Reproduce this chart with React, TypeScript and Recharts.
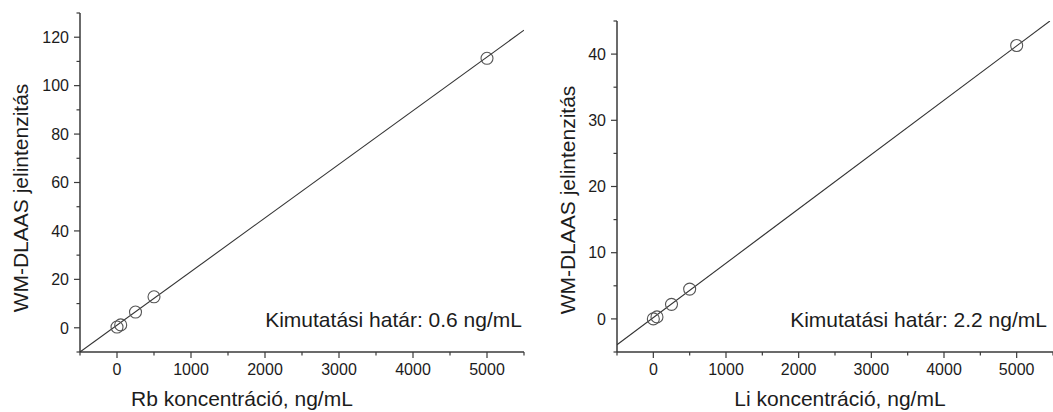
import { ScatterChart, Scatter, XAxis, YAxis } from 'recharts';

// Rb calibration
const rbConc = [0, 50, 250, 500, 5000];
const rbSignal = [0.3, 1.2, 6.5, 12.8, 111.3];
const rbFitX = [-500, 5500];
const rbFitY = [-10, 122.9];
const rbYMajor = [0, 20, 40, 60, 80, 100, 120];
const rbYMinor = [-10, 10, 30, 50, 70, 90, 110, 130];

// Li calibration
const liConc = [0, 50, 250, 500, 5000];
const liSignal = [0, 0.3, 2.2, 4.5, 41.3];
const liFitX = [-500, 5457];
const liFitY = [-3.9, 45];
const liYMajor = [0, 10, 20, 30, 40];
const liYMinor = [-5, 5, 15, 25, 35, 45];

const xMajor = [0, 1000, 2000, 3000, 4000, 5000];
const xMinor = [-500, 500, 1500, 2500, 3500, 4500, 5500];

const FONT = '"Liberation Sans", Arial, sans-serif';
const INK = '#1c1c1c';
const AXIS = '#3a3a3a';

const sorted = (a: number[], b: number[]) => [...a, ...b].sort((p, q) => p - q);

function YTick({ x, y, payload, majors }: any) {
  const major = majors.includes(payload.value);
  return (
    <g>
      <line x1={x} x2={x - (major ? 6 : 3.5)} y1={y} y2={y} stroke={AXIS} strokeWidth={1.2} />
      {major && (
        <text x={x - 11} y={y} dy="0.36em" textAnchor="end" fontSize={16} fill={INK} fontFamily={FONT}>
          {payload.value}
        </text>
      )}
    </g>
  );
}

function XTick({ x, y, payload, majors }: any) {
  const major = majors.includes(payload.value);
  return (
    <g>
      <line x1={x} x2={x} y1={y} y2={y + (major ? 6 : 3.5)} stroke={AXIS} strokeWidth={1.2} />
      {major && (
        <text x={x} y={y + 23} textAnchor="middle" fontSize={16} fill={INK} fontFamily={FONT}>
          {payload.value}
        </text>
      )}
    </g>
  );
}

const ring = (p: any) => (
  <circle cx={p.cx} cy={p.cy} r={6} fill="none" stroke="#555" strokeWidth={1.1} />
);

interface CalProps {
  width: number;
  top: number;
  right: number;
  conc: number[];
  signal: number[];
  fitX: number[];
  fitY: number[];
  yDomain: [number, number];
  yMajor: number[];
  yMinor: number[];
  xTitle: string;
  xTitleX: number;
  yTitleX: number;
  yTitleY: number;
  note: string;
  noteX: number;
}

function CalibrationChart(p: CalProps) {
  const points = p.conc.map((x, i) => ({ x, y: p.signal[i] }));
  const fit = p.fitX.map((x, i) => ({ x, y: p.fitY[i] }));
  return (
    <ScatterChart
      width={p.width}
      height={412}
      margin={{ top: p.top, right: p.right, bottom: 0, left: 0 }}
      style={{ fontFamily: FONT }}
    >
      <XAxis
        type="number"
        dataKey="x"
        domain={[-500, 5500]}
        ticks={sorted(xMajor, xMinor)}
        interval={0}
        tickSize={0}
        tickMargin={0}
        tickLine={false}
        tick={(t: any) => <XTick {...t} majors={xMajor} />}
        axisLine={{ stroke: AXIS, strokeWidth: 1.5 }}
        height={60}
        allowDataOverflow
      />
      <YAxis
        type="number"
        dataKey="y"
        domain={p.yDomain}
        ticks={sorted(p.yMajor, p.yMinor)}
        interval={0}
        tickSize={0}
        tickMargin={0}
        tickLine={false}
        tick={(t: any) => <YTick {...t} majors={p.yMajor} />}
        axisLine={{ stroke: AXIS, strokeWidth: 1.5 }}
        width={80}
        allowDataOverflow
      />
      <Scatter
        data={fit}
        line={{ stroke: '#333', strokeWidth: 1.1 }}
        shape={() => <g />}
        isAnimationActive={false}
      />
      <Scatter data={points} shape={ring} isAnimationActive={false} />
      <text
        x={p.yTitleX}
        y={p.yTitleY}
        transform={`rotate(-90 ${p.yTitleX} ${p.yTitleY})`}
        textAnchor="middle"
        fontSize={21}
        fill={INK}
        fontFamily={FONT}
      >
        WM-DLAAS jelintenzitás
      </text>
      <text x={p.xTitleX} y={406} textAnchor="middle" fontSize={21} fill={INK} fontFamily={FONT}>
        {p.xTitle}
      </text>
      <text x={p.noteX} y={327} textAnchor="end" fontSize={21} fill={INK} fontFamily={FONT}>
        {p.note}
      </text>
    </ScatterChart>
  );
}

export default function App() {
  return (
    <div style={{ position: 'absolute', left: 0, top: 0, width: 1053, height: 412, background: '#fff' }}>
      <div style={{ position: 'absolute', left: 0, top: 0 }}>
        <CalibrationChart
          width={530}
          top={13}
          right={6}
          conc={rbConc}
          signal={rbSignal}
          fitX={rbFitX}
          fitY={rbFitY}
          yDomain={[-10, 130]}
          yMajor={rbYMajor}
          yMinor={rbYMinor}
          xTitle="Rb koncentráció, ng/mL"
          xTitleX={242}
          yTitleX={27.5}
          yTitleY={198}
          note="Kimutatási határ: 0.6 ng/mL"
          noteX={522}
        />
      </div>
      <div style={{ position: 'absolute', left: 537, top: 0 }}>
        <CalibrationChart
          width={516}
          top={21}
          right={0}
          conc={liConc}
          signal={liSignal}
          fitX={liFitX}
          fitY={liFitY}
          yDomain={[-5, 45]}
          yMajor={liYMajor}
          yMinor={liYMinor}
          xTitle="Li koncentráció, ng/mL"
          xTitleX={303}
          yTitleX={38}
          yTitleY={200}
          note="Kimutatási határ: 2.2 ng/mL"
          noteX={510}
        />
      </div>
    </div>
  );
}
